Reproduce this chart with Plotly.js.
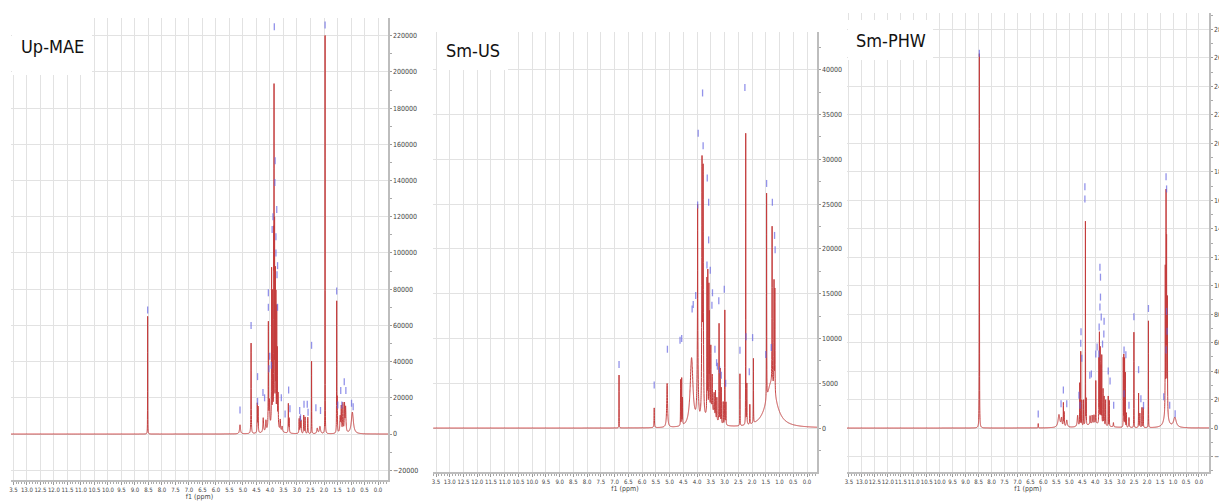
<!DOCTYPE html>
<html><head><meta charset="utf-8">
<script src="https://cdn.plot.ly/plotly-3.0.1.min.js"></script>
<style>html,body{margin:0;padding:0;background:#fff}#chart{width:1219px;height:504px}</style>
</head><body><div id="chart"></div>
<script>
// ---------- data ----------
const panelNames = ["Up-MAE", "Sm-US", "Sm-PHW"];
const xTickStep = 0.5;
const xLabelAlias = {"13.5": "3.5"};

// Up-MAE peak list: position (ppm), height, line width (ppm)
const upPpm    = [8.53, 5.11, 4.70, 4.47, 4.44, 4.25, 4.15, 4.06, 4.02, 3.94, 3.90, 3.86, 3.85, 3.83, 3.80, 3.78, 3.75, 3.73, 3.70, 3.85, 3.62, 3.55, 3.32, 3.29, 2.92, 2.88, 2.85, 2.75, 2.70, 2.60, 2.46, 2.25, 2.15, 1.96, 1.53, 1.51, 1.40, 1.36, 1.30, 1.24, 1.20, 0.95];
const upHeight = [65000, 5000, 50000, 16000, 14000, 8000, 6000, 58000, 15000, 85000, 70000, 90000, 168000, 105000, 80000, 68000, 62000, 40000, 18000, 7000, 6000, 3000, 16000, 8000, 8000, 9000, 7000, 10000, 9000, 9000, 40000, 3000, 4000, 220000, 71000, 18000, 9000, 14000, 16000, 15000, 14000, 12000];
const upWidth  = [0.006, 0.04, 0.012, 0.015, 0.015, 0.03, 0.03, 0.012, 0.03, 0.01, 0.01, 0.008, 0.006, 0.008, 0.008, 0.008, 0.008, 0.01, 0.015, 0.25, 0.02, 0.03, 0.012, 0.015, 0.015, 0.015, 0.015, 0.015, 0.015, 0.015, 0.008, 0.04, 0.05, 0.006, 0.008, 0.015, 0.03, 0.02, 0.02, 0.02, 0.03, 0.09];
// Up-MAE peak-pick marks
const upPickPpm    = [3.84, 1.96, 3.81, 3.82, 3.75, 3.89, 3.92, 3.78, 3.78, 3.72, 3.74, 4.06, 4.06, 3.72, 8.53, 4.70, 1.53, 2.46, 4.46, 4.46, 4.26, 4.20, 1.25, 1.38, 1.19, 1.34, 1.49, 0.98, 0.92, 5.11, 3.31, 3.26, 3.58, 3.44, 2.90, 2.87, 2.74, 2.62, 2.59, 2.30, 2.13, 4.04, 4.01, 3.95];
const upPickHeight = [225000, 226000, 151000, 139000, 124000, 120000, 113000, 109000, 100000, 93000, 88000, 78000, 70000, 70000, 68500, 60000, 79000, 49000, 31700, 18000, 23000, 20000, 28900, 24000, 24000, 16000, 16000, 17000, 15000, 13300, 24300, 14000, 20000, 11000, 13000, 9000, 16500, 16500, 12000, 14500, 13000, 36000, 43000, 38000];

// Sm-US peak list
const usPpm    = [6.84, 5.56, 5.09, 4.60, 4.56, 4.53, 4.20, 3.98, 3.98, 3.82, 3.78, 3.64, 3.61, 3.57, 3.55, 3.50, 3.45, 3.38, 3.33, 3.28, 3.20, 3.16, 3.12, 3.05, 2.99, 2.95, 3.50, 2.44, 2.23, 2.19, 2.08, 1.95, 1.47, 1.27, 1.20, 1.17, 1.30];
const usHeight = [5900, 2200, 4900, 5100, 5200, 3000, 7600, 10000, 14000, 28000, 27000, 15000, 15500, 13500, 10500, 7000, 4000, 2500, 3000, 2500, 11000, 6000, 4000, 2500, 12800, 2500, 1800, 5800, 32500, 4500, 2200, 7200, 23000, 17500, 12000, 11500, 5000];
const usWidth  = [0.006, 0.015, 0.035, 0.008, 0.008, 0.01, 0.12, 0.04, 0.008, 0.02, 0.02, 0.01, 0.008, 0.008, 0.01, 0.01, 0.015, 0.02, 0.01, 0.01, 0.008, 0.008, 0.01, 0.01, 0.008, 0.01, 0.35, 0.008, 0.006, 0.01, 0.01, 0.008, 0.008, 0.01, 0.01, 0.01, 0.45];
// Sm-US peak-pick marks
const usPickPpm    = [3.80, 2.26, 3.96, 3.78, 3.63, 3.58, 3.98, 3.58, 3.64, 3.52, 3.44, 4.05, 4.14, 4.18, 3.46, 3.01, 3.21, 4.56, 4.62, 3.35, 3.29, 3.26, 3.18, 3.12, 2.96, 5.08, 6.84, 5.56, 2.44, 2.22, 1.98, 2.10, 1.47, 1.26, 1.18, 1.16, 1.50, 1.30];
const usPickHeight = [37400, 38000, 32900, 31500, 27900, 25200, 24900, 21000, 18200, 17600, 15100, 14800, 13800, 13300, 13700, 15500, 14200, 10000, 9800, 8800, 7300, 6900, 6500, 5900, 5000, 8800, 7100, 4800, 8700, 10200, 10100, 6300, 27300, 25200, 21500, 19900, 8200, 9000];

// Sm-PHW peak list
const phwPpm    = [8.47, 6.20, 5.40, 5.30, 5.23, 5.20, 5.10, 4.68, 4.60, 4.56, 4.52, 4.45, 4.38, 4.35, 4.20, 4.12, 4.05, 3.98, 3.86, 3.84, 3.81, 3.78, 3.75, 3.70, 3.66, 3.60, 3.50, 3.46, 3.30, 4.00, 2.92, 2.90, 2.87, 2.84, 2.80, 2.70, 2.51, 2.33, 2.28, 2.20, 2.15, 1.95, 1.30, 1.27, 1.25, 1.22, 1.27, 0.93];
const phwHeight = [263000, 3000, 9000, 6000, 16000, 10000, 5000, 8000, 30000, 52000, 18000, 18000, 143000, 18000, 6000, 6000, 6000, 30000, 45000, 62000, 53000, 40000, 48000, 25000, 20000, 18000, 21000, 18000, 3000, 3000, 48000, 50000, 48000, 38000, 10000, 7000, 67000, 24000, 10000, 14000, 14000, 75000, 100000, 145000, 115000, 80000, 12000, 7000];
const phwWidth  = [0.008, 0.01, 0.08, 0.04, 0.01, 0.015, 0.05, 0.04, 0.008, 0.006, 0.01, 0.01, 0.006, 0.01, 0.02, 0.02, 0.02, 0.008, 0.008, 0.006, 0.008, 0.008, 0.008, 0.01, 0.01, 0.01, 0.008, 0.008, 0.02, 0.8, 0.006, 0.006, 0.006, 0.006, 0.01, 0.02, 0.006, 0.008, 0.015, 0.01, 0.01, 0.006, 0.01, 0.008, 0.01, 0.012, 0.15, 0.12];
// Sm-PHW peak-pick marks
const phwPickPpm    = [8.47, 4.40, 4.40, 1.27, 1.25, 3.82, 3.80, 3.80, 3.82, 3.77, 3.85, 3.66, 3.67, 3.93, 3.98, 3.72, 3.86, 4.55, 4.56, 4.52, 2.51, 1.95, 2.89, 2.82, 1.25, 1.23, 1.27, 2.33, 4.21, 4.15, 3.50, 3.43, 4.63, 4.59, 5.23, 5.32, 5.10, 6.20, 2.89, 2.70, 2.24, 2.14, 1.36, 1.13, 0.92, 3.29];
const phwPickHeight = [263300, 169600, 161000, 176600, 168000, 113000, 106000, 92000, 85000, 78000, 71000, 75000, 66000, 57000, 52000, 59000, 52000, 67700, 59500, 49000, 78200, 84000, 54800, 51500, 82000, 68000, 54800, 41000, 37000, 38000, 40000, 33000, 23000, 16000, 26700, 17000, 17000, 9800, 24000, 16000, 20500, 15900, 22000, 16000, 10000, 16000];

// ---------- build spectra (sum of Lorentzian lines from the peak lists) ----------
function spectrum(ppm, height, width) {
  const xs = [];
  for (let i = 0; i <= 7000; i++) xs.push(-0.4 + i * 0.002);
  ppm.forEach(p => xs.push(p));
  xs.sort((a, b) => a - b);
  const ys = xs.map(x => {
    let s = 0;
    for (let k = 0; k < ppm.length; k++) {
      const g = width[k] / 2;
      const d = x - ppm[k];
      s += height[k] * g * g / (d * d + g * g);
    }
    return s;
  });
  return {x: xs, y: ys};
}

const specs = [
  spectrum(upPpm, upHeight, upWidth),
  spectrum(usPpm, usHeight, usWidth),
  spectrum(phwPpm, phwHeight, phwWidth)
];
const picks = [
  {x: upPickPpm, y: upPickHeight},
  {x: usPickPpm, y: usPickHeight},
  {x: phwPickPpm, y: phwPickHeight}
];

const W = 1219, H = 504;
const lineColor = '#c43c3c';
const pickColor = 'rgba(100,100,225,0.7)';
const gridColor = '#e2e2e2';
const axisColor = '#bdbdbd';
const narrow = '"DejaVu Sans Condensed", "Liberation Sans Narrow", "Liberation Sans", Arial, sans-serif';

// plot rectangles in pixels: [left, right, top, bottom]
const rects = [[11, 388, 18, 480], [433, 817, 32, 472], [847, 1209, 13, 472]];
const xRanges = [[13.59, -0.37], [13.61, -0.364], [13.575, -0.386]];
const yRanges = [[-25400, 229800], [-4900, 44200], [-30900, 291600]];
const yDticks = [20000, 5000, 20000];
const yMinor  = [10000, 2500, 10000];
const labelBoxes = [[12, 92, 18, 75], [437, 508, 32, 70], [848, 933, 20, 60]];

const traces = [];
const layout = {
  width: W, height: H,
  margin: {l: 0, r: 0, t: 0, b: 0},
  paper_bgcolor: '#fff', plot_bgcolor: '#fff',
  showlegend: false,
  shapes: [], annotations: []
};

for (let i = 0; i < 3; i++) {
  const sx = i === 0 ? '' : String(i + 1);
  traces.push({
    type: 'scatter', mode: 'lines', x: specs[i].x, y: specs[i].y,
    xaxis: 'x' + sx, yaxis: 'y' + sx,
    line: {color: lineColor, width: 1, simplify: false}, hoverinfo: 'skip'
  });
  traces.push({
    type: 'scatter', mode: 'markers', x: picks[i].x, y: picks[i].y,
    xaxis: 'x' + sx, yaxis: 'y' + sx,
    marker: {symbol: 'line-ns-open', size: 5, color: pickColor, line: {color: pickColor, width: 1.3}},
    hoverinfo: 'skip'
  });
  const r = rects[i];
  layout['xaxis' + sx] = {
    domain: [r[0] / W, r[1] / W],
    anchor: 'y' + sx,
    range: xRanges[i],
    tickmode: 'linear', tick0: 0, dtick: xTickStep, tickformat: '.1f',
    labelalias: xLabelAlias,
    tickangle: 0,
    showgrid: true, gridcolor: gridColor, gridwidth: 1,
    zeroline: false,
    showline: true, linecolor: axisColor, linewidth: 1.5,
    ticks: 'outside', ticklen: 3, tickcolor: '#999',
    minor: {dtick: 0.1, tick0: 0, ticks: 'outside', ticklen: 2, tickcolor: '#aaa', showgrid: false},
    tickfont: {family: narrow, size: 6, color: '#444'},
    title: {text: 'f1 (ppm)', font: {family: narrow, size: 7, color: '#444'}, standoff: 1}
  };
  layout['yaxis' + sx] = {
    domain: [(H - r[3]) / H, (H - r[2]) / H],
    anchor: 'x' + sx,
    side: 'right',
    range: yRanges[i],
    dtick: yDticks[i], tick0: 0, tickformat: 'd',
    showgrid: true, gridcolor: gridColor, gridwidth: 1,
    zeroline: false,
    showline: true, linecolor: axisColor, linewidth: 1.5,
    ticks: 'outside', ticklen: 2, tickcolor: '#999',
    minor: {dtick: yMinor[i], ticks: 'outside', ticklen: 2, tickcolor: '#aaa', showgrid: false},
    tickfont: {family: narrow, size: 7, color: '#444'}
  };
  const b = labelBoxes[i];
  layout.shapes.push({
    type: 'rect', xref: 'paper', yref: 'paper', layer: 'above',
    x0: b[0] / W, x1: b[1] / W, y0: (H - b[3]) / H, y1: (H - b[2]) / H,
    fillcolor: '#fff', line: {width: 0}
  });
  layout.annotations.push({
    xref: 'paper', yref: 'paper', showarrow: false,
    x: (b[0] + b[1]) / 2 / W, y: (H - (b[2] + b[3]) / 2) / H,
    xanchor: 'center', yanchor: 'middle',
    text: panelNames[i],
    font: {family: narrow, size: 18, color: '#111'}
  });
}

Plotly.newPlot('chart', traces, layout, {displayModeBar: false, staticPlot: true});
</script>
</body></html>
